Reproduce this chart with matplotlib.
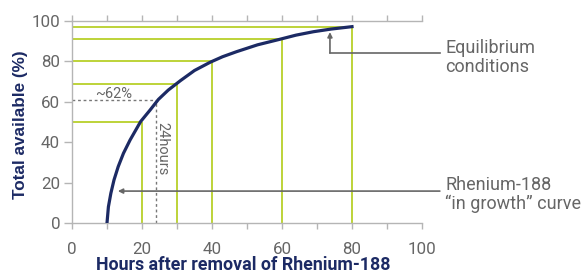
import matplotlib
matplotlib.use("Agg")
import matplotlib.pyplot as plt
from matplotlib.ticker import MultipleLocator

# Data
hours = [10, 10.4, 11.1, 12, 13.2, 14.7, 16.6, 19.6, 22.3, 24.7, 27.5, 31, 35, 39.5, 43, 47, 53, 59.5, 64, 69, 74, 80]
available = [0, 8, 14.7, 21.3, 27.9, 34.5, 41.1, 50.2, 55.9, 61.2, 65.8, 70.5, 75.5, 79.6, 82.3, 84.8, 88.2, 91, 93, 94.7, 96, 97.2]
guide_hours = [20, 30, 40, 60, 80]
guide_values = [50, 69, 80, 91, 97]
marker_hour = 24
marker_value = 61
x_ticks = [0, 20, 40, 60, 80, 100]
y_ticks = [0, 20, 40, 60, 80, 100]

NAVY = "#1c2a64"
GREEN = "#b8d02a"
GRAY = "#666666"
SPINE = "#b5b5b5"

plt.rcParams["font.family"] = ["Roboto", "DejaVu Sans"]

fig = plt.figure(figsize=(5.82, 2.73), dpi=100)
ax = fig.add_axes([72/582, 1-223/273, 350/582, 202/273])
ax.set_xlim(0, 100)
ax.set_ylim(0, 100)

# green guide lines
for h, v in zip(guide_hours, guide_values):
    ax.plot([0, h], [v, v], color=GREEN, lw=1.3, zorder=2, solid_capstyle="butt")
    ax.plot([h, h], [0, v], color=GREEN, lw=1.3, zorder=2, solid_capstyle="butt")

# dashed 24h marker
ax.plot([0, marker_hour], [marker_value, marker_value], color="#777777", lw=1.0, ls=(0, (2, 2)), zorder=2)
ax.plot([marker_hour, marker_hour], [0, marker_value], color="#777777", lw=1.0, ls=(0, (2, 2)), zorder=2)
ax.text(12, 64, "~62%", color=GRAY, fontsize=10.5, ha="center", va="center")
ax.text(25.8, 37, "24hours", color=GRAY, fontsize=10.5, ha="center", va="center", rotation=-90)

# curve
ax.plot(hours, available, color=NAVY, lw=2.3, zorder=4, solid_joinstyle="round")

# spines and ticks
for s in ["left", "bottom", "top"]:
    ax.spines[s].set_color(SPINE)
    ax.spines[s].set_linewidth(1.0)
ax.spines["right"].set_visible(False)
ax.set_xticks(x_ticks)
ax.set_yticks(y_ticks)
ax.xaxis.set_minor_locator(MultipleLocator(10))
ax.tick_params(axis="x", which="both", direction="out", length=4, color=SPINE, width=1.0,
               top=True, labeltop=False, bottom=True)
ax.tick_params(axis="x", which="major", pad=9.5, labelsize=12.2, labelcolor=GRAY)
ax.tick_params(axis="y", which="major", direction="out", length=6, color=SPINE, width=1.0,
               pad=2.5, labelsize=12.2, labelcolor=GRAY)

# axis labels
fig.text(243/582, 1-265/273, "Hours after removal of Rhenium-188", color=NAVY, fontsize=12.8,
         fontweight="bold", ha="center", va="center")
fig.text(21/582, 1-125/273, "Total available (%)", color=NAVY, fontsize=12.3,
         fontweight="bold", ha="center", va="center", rotation=90, family="Liberation Sans")

# annotation arrows
ax.plot([105.1, 73.7], [84.2, 84.2], color=GRAY, lw=1.2, clip_on=False, zorder=5)
ax.annotate("", xy=(73.7, 94.5), xytext=(73.7, 84.2),
            arrowprops=dict(arrowstyle="-|>", color=GRAY, lw=1.2, mutation_scale=7,
                            shrinkA=0, shrinkB=0), annotation_clip=False, zorder=5)
ax.annotate("", xy=(13.1, 15.8), xytext=(105.1, 15.8),
            arrowprops=dict(arrowstyle="-|>", color=GRAY, lw=1.2, mutation_scale=7,
                            shrinkA=0, shrinkB=0), annotation_clip=False, zorder=5)

ax.text(106.6, 82.0, "Equilibrium\nconditions", color=GRAY, fontsize=13, ha="left",
        va="center", linespacing=1.05, clip_on=False)
ax.text(106.6, 14.2, "Rhenium-188\n\u201cin growth\u201d curve", color=GRAY, fontsize=13,
        ha="left", va="center", linespacing=1.05, clip_on=False)

fig.savefig("out.png", dpi=100)
